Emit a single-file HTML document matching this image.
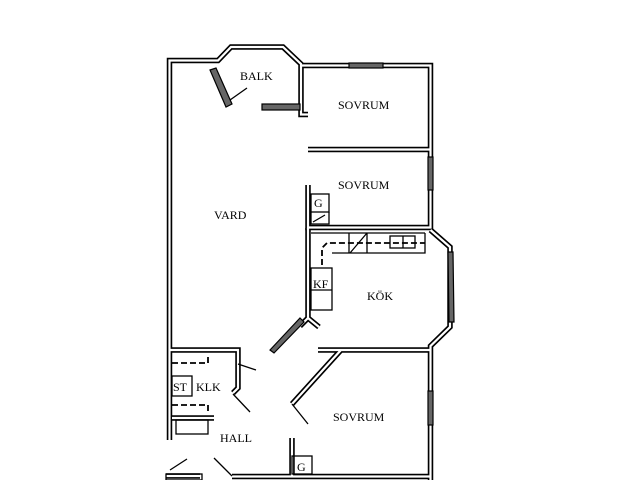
<!DOCTYPE html>
<html><head><style>
html,body{margin:0;padding:0;background:#fff;width:640px;height:480px;overflow:hidden}
svg{display:block}
text{font-family:"Liberation Serif",serif;font-size:12px;fill:#000}
.w{fill:none;stroke:#000;stroke-width:5.5;stroke-linejoin:miter}
.wi{fill:none;stroke:#fff;stroke-width:2.2;stroke-linejoin:miter}
.win{fill:#666;stroke:#000;stroke-width:1.2}
.l{fill:none;stroke:#000;stroke-width:1.3}
.d{fill:none;stroke:#000;stroke-width:1.8;stroke-dasharray:6,3}
</style></head><body>
<svg width="640" height="480" viewBox="0 0 640 480">
<g id="walls">
<path class="w" d="M169.5,440 V60.5 H218 L231,47 H283 L301,64 V114.5 H308 M301,65.5 H430.5 V227.5 H308 V185"/>
<path class="w" d="M308,149.5 H430.5"/>
<path class="w" d="M308,228 V318 M308,318 L300,326 M308,318 L319,327"/>
<path class="w" d="M430.5,230 L450,247 V327 L430.5,346 V480"/>
<path class="w" d="M318,350 H430.5 M341,350 L292,404"/>
<path class="w" d="M169.5,350 H238 V388 L233,393"/>
<path class="w" d="M292,438 V476.5 H232 M292,476.5 H430.5"/>
<path class="w" d="M172,418 H214"/>
<path class="w" d="M166,476 H200"/>
</g>
<g>
<path class="wi" d="M169.5,440 V60.5 H218 L231,47 H283 L301,64 V114.5 H308 M301,65.5 H430.5 V227.5 H308 V185"/>
<path class="wi" d="M308,149.5 H430.5"/>
<path class="wi" d="M308,228 V318 M308,318 L300,326 M308,318 L319,327"/>
<path class="wi" d="M430.5,230 L450,247 V327 L430.5,346 V480"/>
<path class="wi" d="M318,350 H430.5 M341,350 L292,404"/>
<path class="wi" d="M169.5,350 H238 V388 L233,393"/>
<path class="wi" d="M292,438 V476.5 H232 M292,476.5 H430.5"/>
<path class="wi" d="M172,418 H214"/>
<path class="wi" d="M166,476 H200"/>
</g>
<!-- windows -->
<rect class="win" x="349" y="63" width="34" height="5"/>
<rect class="win" x="428" y="157" width="5" height="33"/>
<rect class="win" x="428" y="391" width="5" height="34"/>
<rect class="win" x="262" y="104" width="38" height="6"/>
<polygon class="win" points="210,70 216,68 232,104 226,107"/>
<polygon class="win" points="448,252 453,252 454,322 449,322"/>
<polygon class="win" points="270,350 274,353 304,322 300,318"/>
<!-- door swings -->
<path class="l" d="M230,100 L247,88 M238,364 L256,370 M233,394 L250,412 M292,404 L308,424 M170,470 L187,459 M214,458 L232,476"/>
<!-- boxes -->
<rect class="l" x="311" y="194" width="18" height="18"/>
<path class="l" d="M311,212 V224 H329 V212 M313,222 L325,215"/>
<rect class="l" x="311" y="268" width="21" height="42"/>
<path class="l" d="M311,290 H332"/>
<path class="l" d="M311,233 H425 M332,253 H425 V233 M349,233 V253 M367,233 L350,253 M367,233 V253"/>
<path class="d" d="M322,265 V248 L327,243 H425"/>
<rect class="l" x="390" y="236" width="25" height="12"/>
<path class="l" d="M403,236 V248"/>
<rect class="l" x="172" y="376" width="20" height="20"/>
<path class="d" d="M172,363 H208 V354 M172,405 H208 V414"/>
<rect class="l" x="176" y="420" width="32" height="14"/>
<rect class="l" x="292" y="456" width="20" height="18"/>
<rect class="l" x="166" y="474" width="36" height="6"/>
<!-- labels -->
<text x="240" y="80">BALK</text>
<text x="338" y="109">SOVRUM</text>
<text x="338" y="189">SOVRUM</text>
<text x="214" y="219">VARD</text>
<text x="314" y="207">G</text>
<text x="313" y="288">KF</text>
<text x="367" y="300">KÖK</text>
<text x="173" y="391">ST</text>
<text x="196" y="391">KLK</text>
<text x="220" y="442">HALL</text>
<text x="333" y="421">SOVRUM</text>
<text x="297" y="471">G</text>
</svg>
</body></html>
